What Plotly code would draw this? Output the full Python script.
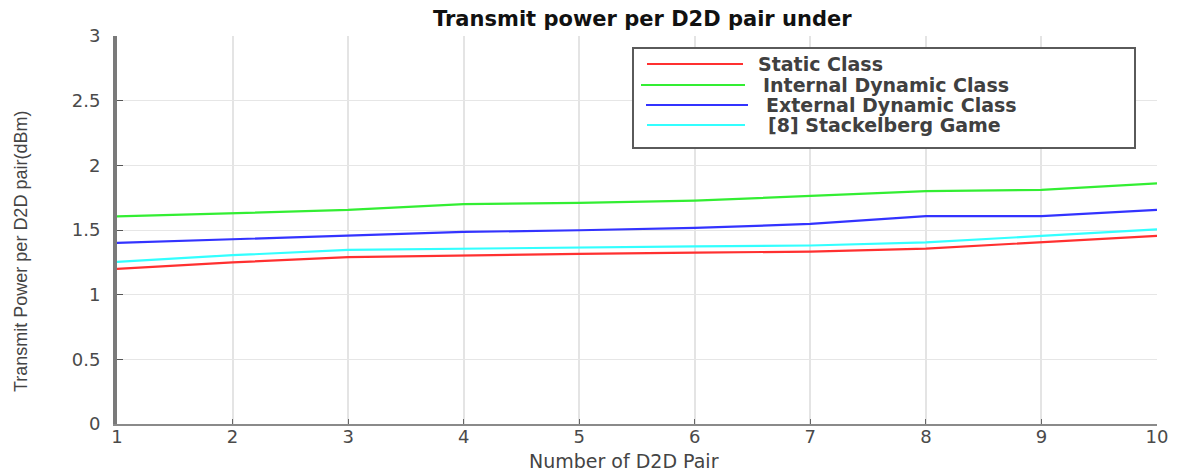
import plotly.graph_objects as go

pairs = [1, 2, 3, 4, 5, 6, 7, 8, 9, 10]
static_class = [1.20, 1.25, 1.29, 1.305, 1.315, 1.325, 1.333, 1.356, 1.405, 1.455]
internal_dynamic = [1.605, 1.63, 1.655, 1.70, 1.71, 1.727, 1.763, 1.80, 1.81, 1.86]
external_dynamic = [1.40, 1.428, 1.454, 1.485, 1.498, 1.516, 1.547, 1.608, 1.608, 1.655]
stackelberg = [1.253, 1.305, 1.346, 1.356, 1.366, 1.374, 1.38, 1.405, 1.454, 1.505]

series_names = ["Static Class", "Internal Dynamic Class", "External Dynamic Class", "[8] Stackelberg Game"]
series_colors = ["#ff3030", "#33ee33", "#3333ff", "#33ffff"]
series_values = [static_class, internal_dynamic, external_dynamic, stackelberg]

y_ticks = [0, 0.5, 1, 1.5, 2, 2.5, 3]
y_tick_labels = ["0", "0.5", "1", "1.5", "2", "2.5", "3"]

fig = go.Figure()
for name, color, vals in zip(series_names, series_colors, series_values):
    fig.add_trace(go.Scatter(x=pairs, y=vals, mode="lines", name=name,
                             line=dict(color=color, width=2.2), showlegend=False))

OFF = 8  # page offset of the figure inside the browser window
W, H = 1180 - OFF, 473 - OFF
# target plot box in window pixels: left 117, right 1157, top 36, bottom 424
L = 117 - OFF
T = 36 - OFF
R = W - (1157 - OFF)
B = H - (424 - OFF)
pw, ph = W - L - R, H - T - B

def px(xw):
    return (xw - OFF - L) / pw

def py(yw):
    return (H - B - (yw - OFF)) / ph

tick_font = dict(family="DejaVu Sans", size=18, color="#4a4a4a")

fig.update_layout(
    width=W, height=H,
    margin=dict(l=L, r=R, t=T, b=B),
    paper_bgcolor="white", plot_bgcolor="white",
    xaxis=dict(range=[1, 10], tickmode="array", tickvals=pairs,
               ticktext=[str(p) for p in pairs],
               showgrid=True, gridcolor="#e4e4e4", gridwidth=2,
               zeroline=False, showline=True, linecolor="#8a8a8a", linewidth=2,
               ticks="inside", ticklen=5, tickcolor="#666", tickfont=tick_font,
               ticklabelstandoff=-5),
    yaxis=dict(range=[0, 3], tickmode="array", tickvals=y_ticks, ticktext=y_tick_labels,
               showgrid=True, gridcolor="#e6e6e6", gridwidth=1,
               zeroline=False, showline=True, linecolor="#7a7a7a", linewidth=4,
               ticks="inside", ticklen=6, tickcolor="#555", tickfont=tick_font,
               ticklabelstandoff=9),
)

annotations = []
# Title
annotations.append(dict(text="<b>Transmit power per D2D pair under</b>", xref="paper", yref="paper",
                        x=px(642), y=py(19), xanchor="center", yanchor="middle", showarrow=False,
                        font=dict(family="DejaVu Sans", size=21, color="#111")))
# Axis titles
annotations.append(dict(text="Number of D2D Pair", xref="paper", yref="paper",
                        x=px(624), y=py(461), xanchor="center", yanchor="middle", showarrow=False,
                        font=dict(family="DejaVu Sans", size=19, color="#444")))
annotations.append(dict(text="Transmit Power per D2D pair(dBm)", xref="paper", yref="paper",
                        x=px(21), y=py(252), xanchor="center", yanchor="middle", showarrow=False,
                        textangle=-90, font=dict(family="Liberation Sans", size=18, color="#444")))

# Custom legend
shapes = [dict(type="rect", xref="paper", yref="paper", x0=px(633), x1=px(1135), y0=py(148), y1=py(48),
               line=dict(color="#5a5a5a", width=2), fillcolor="white", layer="above")]
leg_rows = [64, 85, 105, 125]
leg_line_x = [(647, 743), (641, 745), (646, 748), (647, 745)]
leg_text_x = [757, 762, 765, 767]
for name, color, yr, (lx0, lx1), tx in zip(series_names, series_colors, leg_rows, leg_line_x, leg_text_x):
    shapes.append(dict(type="line", xref="paper", yref="paper", x0=px(lx0), x1=px(lx1),
                       y0=py(yr), y1=py(yr), line=dict(color=color, width=2), layer="above"))
    annotations.append(dict(text="<b>" + name + "</b>", xref="paper", yref="paper",
                            x=px(tx), y=py(yr), xanchor="left", yanchor="middle", showarrow=False,
                            borderpad=0,
                            font=dict(family="DejaVu Sans", size=19, color="#404040")))

fig.update_layout(shapes=shapes, annotations=annotations)
fig.write_html("out.html")
